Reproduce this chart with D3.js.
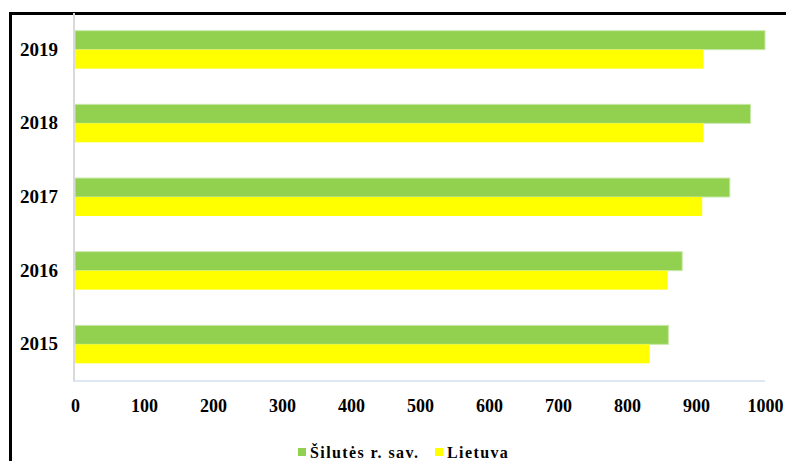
<!DOCTYPE html>
<html>
<head>
<meta charset="utf-8">
<script src="https://cdn.jsdelivr.net/npm/d3@7"></script>
<style>
body { margin: 0; background: #fff; }
svg text { font-family: "Liberation Serif", "Times New Roman", serif; font-weight: bold; fill: #000; }
</style>
</head>
<body>
<div id="chart"></div>
<script>
var years = ["2019", "2018", "2017", "2016", "2015"];
var silute = [1000, 979, 949, 880, 860];
var lietuva = [911, 911, 909, 859, 833];
var seriesNames = ["Šilutės r. sav.", "Lietuva"];
var seriesColors = ["#92D050", "#FFFF00"];
var xTicks = [0, 100, 200, 300, 400, 500, 600, 700, 800, 900, 1000];

var w = 786, h = 461;
var padLeft = 75, padRight = 765, padTop = 13, padBottom = 381;

var svg = d3.select("#chart").append("svg")
	.attr("width", w)
	.attr("height", h);

// outer frame (cut off at right and bottom)
svg.append("rect")
	.attr("x", 10.5).attr("y", 13.5)
	.attr("width", 900).attr("height", 600)
	.attr("fill", "none")
	.attr("stroke", "#000")
	.attr("stroke-width", 3);

var x = d3.scaleLinear().domain([0, 1000]).range([padLeft, padRight]);
var y = d3.scaleBand().domain(years).range([padTop, padBottom]).paddingInner(0.485).paddingOuter(0.24);
var ySub = d3.scaleBand().domain([0, 1]).range([0, y.bandwidth()]);

var data = years.map(function (d, i) { return { year: d, vals: [silute[i], lietuva[i]] }; });

var groups = svg.selectAll("g.year")
	.data(data)
	.enter().append("g")
	.attr("class", "year")
	.attr("transform", function (d) { return "translate(0," + y(d.year) + ")"; });

groups.selectAll("rect")
	.data(function (d) { return d.vals; })
	.enter().append("rect")
	.attr("x", x(0))
	.attr("y", function (d, i) { return ySub(i); })
	.attr("width", function (d) { return x(d) - x(0); })
	.attr("height", ySub.bandwidth())
	.attr("fill", function (d, i) { return seriesColors[i]; })
	.attr("stroke", function (d, i) { return i == 0 ? "#c8e8a8" : "none"; })
	.attr("stroke-width", 1);

// axis lines
svg.append("line")
	.attr("x1", padLeft - 1).attr("x2", padLeft - 1)
	.attr("y1", padTop).attr("y2", padBottom)
	.attr("stroke", "#d9d9d9").attr("stroke-width", 2);
svg.append("line")
	.attr("x1", padLeft - 2).attr("x2", padRight)
	.attr("y1", padBottom).attr("y2", padBottom)
	.attr("stroke", "#d6dff0").attr("stroke-width", 1.5);

// x tick labels
var xAxis = d3.axisBottom(x).tickValues(xTicks).tickFormat(d3.format("d")).tickSize(0).tickPadding(0);
var gx = svg.append("g")
	.attr("transform", "translate(0," + (padBottom + 18) + ")")
	.call(xAxis);
gx.select(".domain").remove();
gx.selectAll("text").style("font-size", "18px").attr("dy", "0.71em");

// y labels
var yAxis = d3.axisLeft(y).tickSize(0).tickPadding(0);
var gy = svg.append("g")
	.attr("transform", "translate(58,0)")
	.call(yAxis);
gy.select(".domain").remove();
gy.selectAll("text").style("font-size", "19px");

// legend
var legend = svg.append("g").attr("transform", "translate(0,452)");
var legX = [298, 435];
seriesNames.forEach(function (name, i) {
	legend.append("rect")
		.attr("x", legX[i]).attr("y", -4)
		.attr("width", 8).attr("height", 8)
		.attr("fill", seriesColors[i]);
	legend.append("text")
		.attr("x", legX[i] + 12).attr("y", 6)
		.style("font-size", "16px")
		.style("letter-spacing", "1.4px")
		.text(name);
});
</script>
</body>
</html>
